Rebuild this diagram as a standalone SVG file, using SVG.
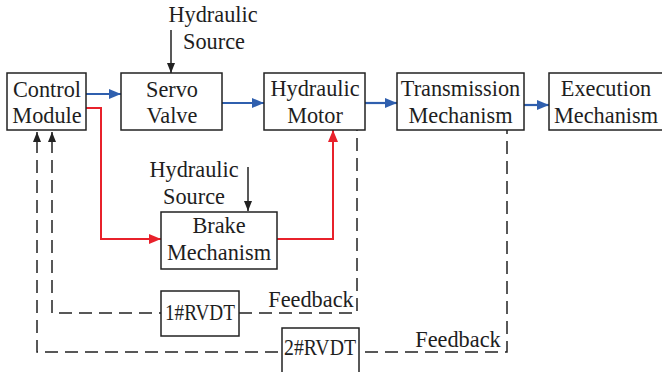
<svg xmlns="http://www.w3.org/2000/svg" width="662" height="372" viewBox="0 0 662 372" font-family="'Liberation Serif', 'Times New Roman', serif">
<style>
.box{fill:#fff;stroke:#222;stroke-width:1.5}
text{font-family:"Liberation Serif","Times New Roman",serif;font-size:22.3px;fill:#1e1e1e;text-anchor:middle}
.blue{fill:none;stroke:#2f5fae;stroke-width:2.2}
.red{fill:none;stroke:#e8212b;stroke-width:2}
.blk{fill:none;stroke:#222;stroke-width:1.5}
.dash{fill:none;stroke:#222;stroke-width:1.5;stroke-dasharray:13,7}
</style>
<defs>
<marker id="ab" markerUnits="userSpaceOnUse" viewBox="0 0 12 10" markerWidth="12" markerHeight="10" refX="12" refY="5" orient="auto"><path d="M0,0 L12,5 L0,10 z" fill="#2f5fae"/></marker>
<marker id="ar" markerUnits="userSpaceOnUse" viewBox="0 0 12 10" markerWidth="12" markerHeight="10" refX="12" refY="5" orient="auto"><path d="M0,0 L12,5 L0,10 z" fill="#e8212b"/></marker>
<marker id="ak" markerUnits="userSpaceOnUse" viewBox="0 0 10 8" markerWidth="10" markerHeight="8" refX="10" refY="4" orient="auto"><path d="M0,0 L10,4 L0,8 z" fill="#222"/></marker>
</defs>
<g id="connectors">
<path class="dash" d="M52,140 V313 H357 V130"/>
<path class="dash" d="M37,140 V352 H507 V130"/>
<path class="blk" d="M37,142 V132" marker-end="url(#ak)"/>
<path class="blk" d="M52,142 V132" marker-end="url(#ak)"/>
<path class="blue" d="M86,94 H121" marker-end="url(#ab)"/>
<path class="blue" d="M222,103 H264" marker-end="url(#ab)"/>
<path class="blue" d="M365,103 H397" marker-end="url(#ab)"/>
<path class="blue" d="M524,105 H549" marker-end="url(#ab)"/>
<path class="red" d="M86,108 H101 V239 H161" marker-end="url(#ar)"/>
<path class="red" d="M277,239 H333 V130" marker-end="url(#ar)"/>
<path class="blk" d="M171,30 V73" marker-end="url(#ak)"/>
<path class="blk" d="M248,167 V211" marker-end="url(#ak)"/>
</g>
<g id="control"><rect class="box" x="7" y="73" width="79" height="57"/><text x="47" y="97">Control</text><text x="47" y="123">Module</text></g>
<g id="servo"><rect class="box" x="121" y="73" width="101" height="57"/><text x="172" y="97">Servo</text><text x="172" y="123">Valve</text></g>
<g id="motor"><rect class="box" x="264" y="73" width="101" height="57"/><text x="315" y="96">Hydraulic</text><text x="315" y="122.5">Motor</text></g>
<g id="transmission"><rect class="box" x="397" y="73" width="127" height="57"/><text x="460.5" y="96">Transmission</text><text x="460.5" y="122.5">Mechanism</text></g>
<g id="execution"><rect class="box" x="549" y="73" width="115" height="57"/><text x="606" y="96">Execution</text><text x="606" y="122.5">Mechanism</text></g>
<g id="source1"><text x="213" y="22">Hydraulic</text><text x="214" y="49">Source</text></g>
<g id="brake"><rect class="box" x="161" y="212" width="116" height="57"/><text x="219" y="233">Brake</text><text x="219" y="260">Mechanism</text></g>
<g id="source2"><text x="194" y="177">Hydraulic</text><text x="194" y="204">Source</text></g>
<g id="rvdt1"><rect class="box" x="161" y="291" width="78" height="45"/><text x="200" y="320" textLength="70" lengthAdjust="spacingAndGlyphs">1#RVDT</text></g>
<g id="feedback1"><text x="311" y="307">Feedback</text></g>
<g id="rvdt2"><rect class="box" x="282" y="328" width="77" height="46"/><text x="320" y="355" textLength="72" lengthAdjust="spacingAndGlyphs">2#RVDT</text></g>
<g id="feedback2"><text x="458" y="346.5">Feedback</text></g>
</svg>
